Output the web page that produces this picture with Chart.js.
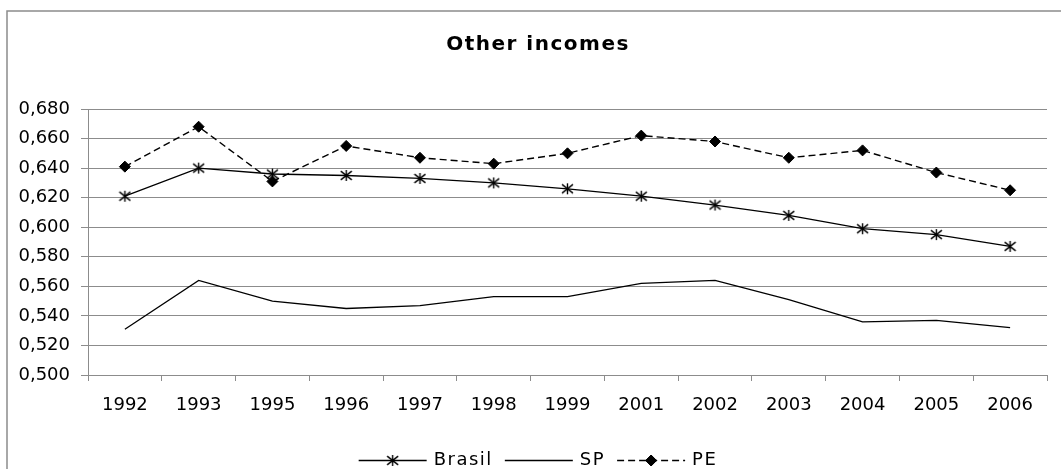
<!DOCTYPE html>
<html>
<head>
<meta charset="utf-8">
<script src="https://cdn.jsdelivr.net/npm/chart.js@4.4.1/dist/chart.umd.min.js"></script>
<style>
  html, body { margin: 0; padding: 0; background: #fff; overflow: hidden; }
  #wrap { position: relative; width: 1061px; height: 469px; }
</style>
</head>
<body>
<div id="wrap"><canvas id="c" width="1061" height="469"></canvas></div>
<script>
// Survey years and index values per region
const years  = ['1992','1993','1995','1996','1997','1998','1999','2001','2002','2003','2004','2005','2006'];
const brasil = [0.621, 0.640, 0.636, 0.635, 0.633, 0.630, 0.626, 0.621, 0.615, 0.608, 0.599, 0.595, 0.587];
const sp     = [0.531, 0.564, 0.550, 0.545, 0.547, 0.553, 0.553, 0.562, 0.564, 0.551, 0.536, 0.537, 0.532];
const pe     = [0.641, 0.668, 0.631, 0.655, 0.647, 0.643, 0.650, 0.662, 0.658, 0.647, 0.652, 0.637, 0.625];
const seriesNames = ['Brasil', 'SP', 'PE'];
const titleText = 'Other incomes';
const yMin = 0.500, yMax = 0.680, yStep = 0.020;

const GRID = '#8c8c8c';
const FONT = 'DejaVu Sans';

// Asterisk marker: an X crossed by a vertical bar
function makeAsterisk(size) {
  const cv = document.createElement('canvas');
  cv.width = cv.height = size;
  const g = cv.getContext('2d');
  const c = size / 2, r = size / 2 - 1;
  g.strokeStyle = '#000';
  g.lineWidth = 1.4;
  g.beginPath();
  g.moveTo(c, c - r); g.lineTo(c, c + r);
  g.moveTo(c - r, c - r * 0.8); g.lineTo(c + r, c + r * 0.8);
  g.moveTo(c - r, c + r * 0.8); g.lineTo(c + r, c - r * 0.8);
  g.stroke();
  return cv;
}
const asterisk = makeAsterisk(13);

// Outer frame and white background
const framePlugin = {
  id: 'frame',
  beforeDraw(chart) {
    const ctx = chart.ctx;
    ctx.save();
    ctx.fillStyle = '#fff';
    ctx.fillRect(0, 0, chart.width, chart.height);
    ctx.strokeStyle = GRID;
    ctx.lineWidth = 1.5;
    ctx.strokeRect(7, 11, chart.width + 100, chart.height + 100);
    ctx.restore();
  }
};

// Title and legend, letter-spaced
const textPlugin = {
  id: 'texts',
  afterDraw(chart) {
    const ctx = chart.ctx;
    const cx = 538;
    ctx.save();
    ctx.fillStyle = '#000';
    ctx.textBaseline = 'middle';
    ctx.textAlign = 'center';
    ctx.font = 'bold 20px "' + FONT + '"';
    ctx.letterSpacing = '1.5px';
    ctx.fillText(titleText, cx, 45);

    // legend row
    ctx.font = '18px "' + FONT + '"';
    ctx.letterSpacing = '1.5px';
    ctx.textAlign = 'left';
    const lineLen = 68, gapText = 7, gapItem = 12, y = 460;
    const items = chart.data.datasets.map(ds => ({ ds, w: ctx.measureText(ds.label).width }));
    const total = items.reduce((s, it) => s + lineLen + gapText + it.w, 0) + gapItem * (items.length - 1);
    let x = cx - total / 2;
    items.forEach(it => {
      const ds = it.ds;
      ctx.save();
      ctx.strokeStyle = '#000';
      ctx.lineWidth = ds.borderWidth;
      ctx.setLineDash(ds.borderDash || []);
      ctx.beginPath();
      ctx.moveTo(x, y + 0.5);
      ctx.lineTo(x + lineLen, y + 0.5);
      ctx.stroke();
      ctx.restore();
      const mx = x + lineLen / 2;
      if (ds.pointStyle && ds.pointRadius > 0) {
        Chart.helpers.drawPoint(ctx, {
          pointStyle: ds.pointStyle, radius: ds.pointRadius, rotation: 0, borderWidth: 1
        }, mx, y + 0.5);
        if (ds.pointStyle === 'rectRot') { ctx.fillStyle = '#000'; ctx.fill(); }
      }
      ctx.fillStyle = '#000';
      ctx.fillText(ds.label, x + lineLen + gapText, y);
      x += lineLen + gapText + it.w + gapItem;
    });
    ctx.restore();
  }
};

new Chart(document.getElementById('c'), {
  type: 'line',
  data: {
    labels: years,
    datasets: [
      {
        label: seriesNames[0], data: brasil,
        borderColor: '#000', borderWidth: 1.3,
        pointStyle: asterisk, pointRadius: 6,
        tension: 0
      },
      {
        label: seriesNames[1], data: sp,
        borderColor: '#000', borderWidth: 1.3,
        pointStyle: false, pointRadius: 0,
        tension: 0
      },
      {
        label: seriesNames[2], data: pe,
        borderColor: '#000', borderWidth: 1.4, borderDash: [7, 4],
        pointStyle: 'rectRot', pointRadius: 5.5,
        pointBackgroundColor: '#000', pointBorderColor: '#000', pointBorderWidth: 1,
        tension: 0
      }
    ]
  },
  options: {
    responsive: false,
    animation: false,
    devicePixelRatio: 1,
    layout: { padding: { top: 109, right: 14, bottom: 49, left: 0 } },
    plugins: {
      legend: { display: false },
      title: { display: false },
      tooltip: { enabled: false }
    },
    scales: {
      x: {
        offset: true,
        afterFit(s) { s.height = 45; },
        grid: { offset: true, drawOnChartArea: false, drawTicks: true, tickLength: 6, color: GRID },
        border: { display: true, color: GRID, width: 1 },
        ticks: { color: '#000', font: { family: FONT, size: 18 }, padding: 14, maxRotation: 0, autoSkip: false }
      },
      y: {
        min: yMin, max: yMax,
        afterFit(s) { s.width = 88; },
        grid: { color: GRID, tickLength: 7, drawTicks: true },
        border: { display: true, color: GRID, width: 1 },
        ticks: {
          stepSize: yStep, color: '#000', padding: 11,
          font: { family: FONT, size: 18 },
          callback: v => v.toFixed(3).replace('.', ',')
        }
      }
    }
  },
  plugins: [framePlugin, textPlugin]
});
</script>
</body>
</html>
